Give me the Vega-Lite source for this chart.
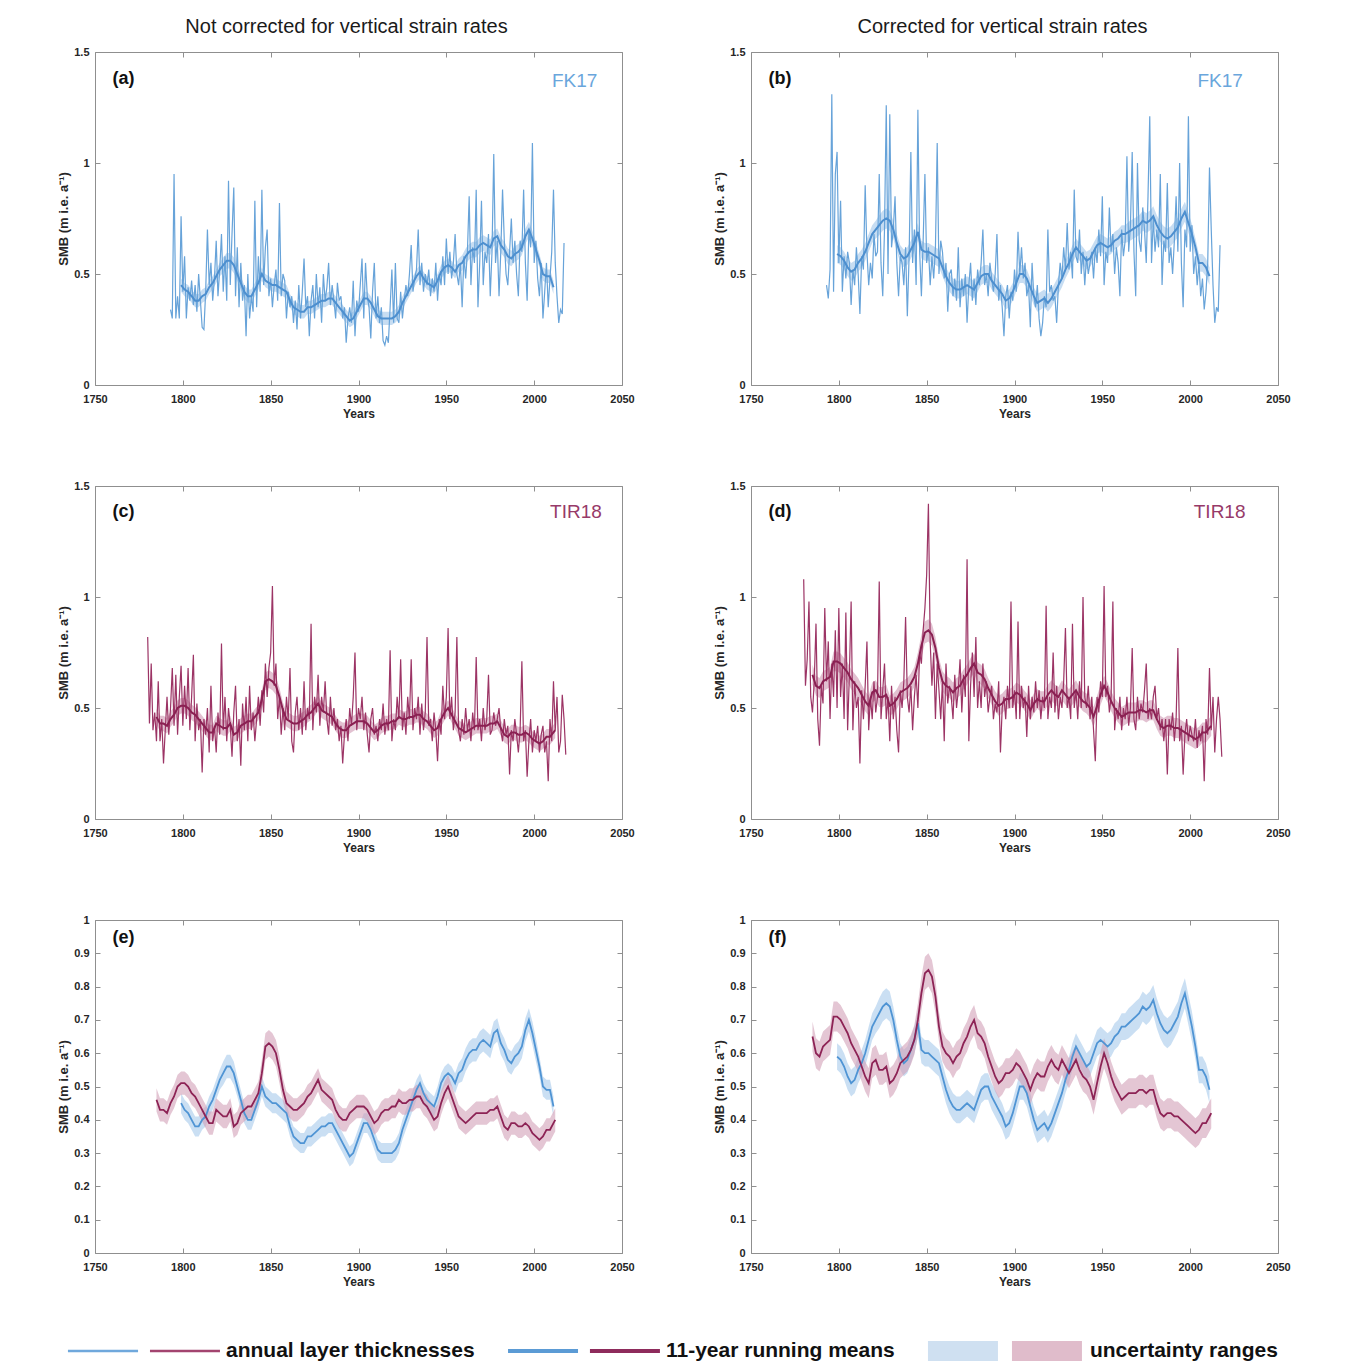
{
  "$schema": "https://vega.github.io/schema/vega-lite/v6.json",
  "background": "white",
  "padding": {"left": 57, "top": 17, "right": 10, "bottom": 0},
  "spacing": 49,
  "vconcat": [
    {
      "spacing": 61,
      "vconcat": [
        {
          "spacing": 78,
          "hconcat": [
            {
              "width": 527, "height": 333,
              "title": {"text": "Not corrected for vertical strain rates", "fontSize": 20, "fontWeight": "normal", "dx": -12, "offset": 9, "color": "#1a1a1a"},
              "layer": [
                {"data": {"name": "fkm"}, "mark": {"type": "errorband", "color": "#b4d1ee", "opacity": 0.75},
                 "encoding": {"x": {"field": "t", "type": "quantitative", "scale": {"domain": [1750, 2050], "nice": false, "zero": false}, "axis": null},
                              "y": {"field": "n", "type": "quantitative", "scale": {"domain": [0, 1.5], "nice": false, "zero": false}, "axis": null},
                              "yError": {"field": "u"}}},
                {"data": {"name": "fk"}, "mark": {"type": "line", "color": "#67a3d9", "strokeWidth": 1.2},
                 "encoding": {"x": {"field": "t", "type": "quantitative", "scale": {"domain": [1750, 2050], "nice": false, "zero": false}, "axis": {"orient": "bottom", "title": "Years", "values": [1750, 1800, 1850, 1900, 1950, 2000, 2050], "format": "d"}},
                              "y": {"field": "n", "type": "quantitative", "scale": {"domain": [0, 1.5], "nice": false, "zero": false}, "axis": {"orient": "left", "title": "SMB (m i.e. a⁻¹)", "values": [0, 0.5, 1, 1.5], "format": "~g"}}}},
                {"data": {"name": "fkm"}, "mark": {"type": "line", "color": "#4d8fcf", "strokeWidth": 2},
                 "encoding": {"x": {"field": "t", "type": "quantitative", "scale": {"domain": [1750, 2050], "nice": false, "zero": false}, "axis": null},
                              "y": {"field": "n", "type": "quantitative", "scale": {"domain": [0, 1.5], "nice": false, "zero": false}, "axis": null}}},
                {"data": {"values": [{"t": 1760, "v": 1.38, "s": "(a)"}]}, "mark": {"type": "text", "align": "left", "baseline": "middle", "fontSize": 18, "fontWeight": "bold", "color": "#111111"},
                 "encoding": {"x": {"field": "t", "type": "quantitative", "scale": {"domain": [1750, 2050], "nice": false, "zero": false}, "axis": {"orient": "top", "labels": false, "title": null, "values": [1750, 1800, 1850, 1900, 1950, 2000, 2050]}},
                              "y": {"field": "v", "type": "quantitative", "scale": {"domain": [0, 1.5], "nice": false, "zero": false}, "axis": {"orient": "right", "labels": false, "title": null, "values": [0, 0.5, 1, 1.5]}},
                              "text": {"field": "s"}}},
                {"data": {"values": [{"t": 2036, "v": 1.37, "s": "FK17"}]}, "mark": {"type": "text", "align": "right", "baseline": "middle", "fontSize": 19, "color": "#6aa6dc"},
                 "encoding": {"x": {"field": "t", "type": "quantitative", "scale": {"domain": [1750, 2050], "nice": false, "zero": false}, "axis": null},
                              "y": {"field": "v", "type": "quantitative", "scale": {"domain": [0, 1.5], "nice": false, "zero": false}, "axis": null},
                              "text": {"field": "s"}}}
              ],
              "resolve": {"axis": {"x": "independent", "y": "independent"}}
            },
            {
              "width": 527, "height": 333,
              "title": {"text": "Corrected for vertical strain rates", "fontSize": 20, "fontWeight": "normal", "dx": -12, "offset": 9, "color": "#1a1a1a"},
              "layer": [
                {"data": {"name": "fkm"}, "mark": {"type": "errorband", "color": "#b4d1ee", "opacity": 0.75},
                 "encoding": {"x": {"field": "t", "type": "quantitative", "scale": {"domain": [1750, 2050], "nice": false, "zero": false}, "axis": null},
                              "y": {"field": "c", "type": "quantitative", "scale": {"domain": [0, 1.5], "nice": false, "zero": false}, "axis": null},
                              "yError": {"field": "w"}}},
                {"data": {"name": "fk"}, "mark": {"type": "line", "color": "#67a3d9", "strokeWidth": 1.2},
                 "encoding": {"x": {"field": "t", "type": "quantitative", "scale": {"domain": [1750, 2050], "nice": false, "zero": false}, "axis": {"orient": "bottom", "title": "Years", "values": [1750, 1800, 1850, 1900, 1950, 2000, 2050], "format": "d"}},
                              "y": {"field": "c", "type": "quantitative", "scale": {"domain": [0, 1.5], "nice": false, "zero": false}, "axis": {"orient": "left", "title": "SMB (m i.e. a⁻¹)", "values": [0, 0.5, 1, 1.5], "format": "~g"}}}},
                {"data": {"name": "fkm"}, "mark": {"type": "line", "color": "#4d8fcf", "strokeWidth": 2},
                 "encoding": {"x": {"field": "t", "type": "quantitative", "scale": {"domain": [1750, 2050], "nice": false, "zero": false}, "axis": null},
                              "y": {"field": "c", "type": "quantitative", "scale": {"domain": [0, 1.5], "nice": false, "zero": false}, "axis": null}}},
                {"data": {"values": [{"t": 1760, "v": 1.38, "s": "(b)"}]}, "mark": {"type": "text", "align": "left", "baseline": "middle", "fontSize": 18, "fontWeight": "bold", "color": "#111111"},
                 "encoding": {"x": {"field": "t", "type": "quantitative", "scale": {"domain": [1750, 2050], "nice": false, "zero": false}, "axis": {"orient": "top", "labels": false, "title": null, "values": [1750, 1800, 1850, 1900, 1950, 2000, 2050]}},
                              "y": {"field": "v", "type": "quantitative", "scale": {"domain": [0, 1.5], "nice": false, "zero": false}, "axis": {"orient": "right", "labels": false, "title": null, "values": [0, 0.5, 1, 1.5]}},
                              "text": {"field": "s"}}},
                {"data": {"values": [{"t": 2030, "v": 1.37, "s": "FK17"}]}, "mark": {"type": "text", "align": "right", "baseline": "middle", "fontSize": 19, "color": "#6aa6dc"},
                 "encoding": {"x": {"field": "t", "type": "quantitative", "scale": {"domain": [1750, 2050], "nice": false, "zero": false}, "axis": null},
                              "y": {"field": "v", "type": "quantitative", "scale": {"domain": [0, 1.5], "nice": false, "zero": false}, "axis": null},
                              "text": {"field": "s"}}}
              ],
              "resolve": {"axis": {"x": "independent", "y": "independent"}}
            }
          ]
        },
        {
          "spacing": 78,
          "hconcat": [
            {
              "width": 527, "height": 333,
              "layer": [
                {"data": {"name": "tirm"}, "mark": {"type": "errorband", "color": "#d2a0b8", "opacity": 0.65},
                 "encoding": {"x": {"field": "t", "type": "quantitative", "scale": {"domain": [1750, 2050], "nice": false, "zero": false}, "axis": null},
                              "y": {"field": "n", "type": "quantitative", "scale": {"domain": [0, 1.5], "nice": false, "zero": false}, "axis": null},
                              "yError": {"field": "u"}}},
                {"data": {"name": "tir"}, "mark": {"type": "line", "color": "#9c3465", "strokeWidth": 1.2},
                 "encoding": {"x": {"field": "t", "type": "quantitative", "scale": {"domain": [1750, 2050], "nice": false, "zero": false}, "axis": {"orient": "bottom", "title": "Years", "values": [1750, 1800, 1850, 1900, 1950, 2000, 2050], "format": "d"}},
                              "y": {"field": "n", "type": "quantitative", "scale": {"domain": [0, 1.5], "nice": false, "zero": false}, "axis": {"orient": "left", "title": "SMB (m i.e. a⁻¹)", "values": [0, 0.5, 1, 1.5], "format": "~g"}}}},
                {"data": {"name": "tirm"}, "mark": {"type": "line", "color": "#8a2052", "strokeWidth": 2},
                 "encoding": {"x": {"field": "t", "type": "quantitative", "scale": {"domain": [1750, 2050], "nice": false, "zero": false}, "axis": null},
                              "y": {"field": "n", "type": "quantitative", "scale": {"domain": [0, 1.5], "nice": false, "zero": false}, "axis": null}}},
                {"data": {"values": [{"t": 1760, "v": 1.385, "s": "(c)"}]}, "mark": {"type": "text", "align": "left", "baseline": "middle", "fontSize": 18, "fontWeight": "bold", "color": "#111111"},
                 "encoding": {"x": {"field": "t", "type": "quantitative", "scale": {"domain": [1750, 2050], "nice": false, "zero": false}, "axis": {"orient": "top", "labels": false, "title": null, "values": [1750, 1800, 1850, 1900, 1950, 2000, 2050]}},
                              "y": {"field": "v", "type": "quantitative", "scale": {"domain": [0, 1.5], "nice": false, "zero": false}, "axis": {"orient": "right", "labels": false, "title": null, "values": [0, 0.5, 1, 1.5]}},
                              "text": {"field": "s"}}},
                {"data": {"values": [{"t": 2038.5, "v": 1.385, "s": "TIR18"}]}, "mark": {"type": "text", "align": "right", "baseline": "middle", "fontSize": 19, "color": "#973a69"},
                 "encoding": {"x": {"field": "t", "type": "quantitative", "scale": {"domain": [1750, 2050], "nice": false, "zero": false}, "axis": null},
                              "y": {"field": "v", "type": "quantitative", "scale": {"domain": [0, 1.5], "nice": false, "zero": false}, "axis": null},
                              "text": {"field": "s"}}}
              ],
              "resolve": {"axis": {"x": "independent", "y": "independent"}}
            },
            {
              "width": 527, "height": 333,
              "layer": [
                {"data": {"name": "tirm"}, "mark": {"type": "errorband", "color": "#d2a0b8", "opacity": 0.65},
                 "encoding": {"x": {"field": "t", "type": "quantitative", "scale": {"domain": [1750, 2050], "nice": false, "zero": false}, "axis": null},
                              "y": {"field": "c", "type": "quantitative", "scale": {"domain": [0, 1.5], "nice": false, "zero": false}, "axis": null},
                              "yError": {"field": "w"}}},
                {"data": {"name": "tir"}, "mark": {"type": "line", "color": "#9c3465", "strokeWidth": 1.2},
                 "encoding": {"x": {"field": "t", "type": "quantitative", "scale": {"domain": [1750, 2050], "nice": false, "zero": false}, "axis": {"orient": "bottom", "title": "Years", "values": [1750, 1800, 1850, 1900, 1950, 2000, 2050], "format": "d"}},
                              "y": {"field": "c", "type": "quantitative", "scale": {"domain": [0, 1.5], "nice": false, "zero": false}, "axis": {"orient": "left", "title": "SMB (m i.e. a⁻¹)", "values": [0, 0.5, 1, 1.5], "format": "~g"}}}},
                {"data": {"name": "tirm"}, "mark": {"type": "line", "color": "#8a2052", "strokeWidth": 2},
                 "encoding": {"x": {"field": "t", "type": "quantitative", "scale": {"domain": [1750, 2050], "nice": false, "zero": false}, "axis": null},
                              "y": {"field": "c", "type": "quantitative", "scale": {"domain": [0, 1.5], "nice": false, "zero": false}, "axis": null}}},
                {"data": {"values": [{"t": 1760, "v": 1.385, "s": "(d)"}]}, "mark": {"type": "text", "align": "left", "baseline": "middle", "fontSize": 18, "fontWeight": "bold", "color": "#111111"},
                 "encoding": {"x": {"field": "t", "type": "quantitative", "scale": {"domain": [1750, 2050], "nice": false, "zero": false}, "axis": {"orient": "top", "labels": false, "title": null, "values": [1750, 1800, 1850, 1900, 1950, 2000, 2050]}},
                              "y": {"field": "v", "type": "quantitative", "scale": {"domain": [0, 1.5], "nice": false, "zero": false}, "axis": {"orient": "right", "labels": false, "title": null, "values": [0, 0.5, 1, 1.5]}},
                              "text": {"field": "s"}}},
                {"data": {"values": [{"t": 2031.5, "v": 1.385, "s": "TIR18"}]}, "mark": {"type": "text", "align": "right", "baseline": "middle", "fontSize": 19, "color": "#973a69"},
                 "encoding": {"x": {"field": "t", "type": "quantitative", "scale": {"domain": [1750, 2050], "nice": false, "zero": false}, "axis": null},
                              "y": {"field": "v", "type": "quantitative", "scale": {"domain": [0, 1.5], "nice": false, "zero": false}, "axis": null},
                              "text": {"field": "s"}}}
              ],
              "resolve": {"axis": {"x": "independent", "y": "independent"}}
            }
          ]
        },
        {
          "spacing": 78,
          "hconcat": [
            {
              "width": 527, "height": 333,
              "layer": [
                {"data": {"name": "fkm"}, "mark": {"type": "errorband", "color": "#b4d1ee", "opacity": 0.7},
                 "encoding": {"x": {"field": "t", "type": "quantitative", "scale": {"domain": [1750, 2050], "nice": false, "zero": false}, "axis": null},
                              "y": {"field": "n", "type": "quantitative", "scale": {"domain": [0, 1], "nice": false, "zero": false}, "axis": null},
                              "yError": {"field": "u"}}},
                {"data": {"name": "tirm"}, "mark": {"type": "errorband", "color": "#d2a0b8", "opacity": 0.6},
                 "encoding": {"x": {"field": "t", "type": "quantitative", "scale": {"domain": [1750, 2050], "nice": false, "zero": false}, "axis": null},
                              "y": {"field": "n", "type": "quantitative", "scale": {"domain": [0, 1], "nice": false, "zero": false}, "axis": null},
                              "yError": {"field": "u"}}},
                {"data": {"name": "fkm"}, "mark": {"type": "line", "color": "#4f94d4", "strokeWidth": 1.8},
                 "encoding": {"x": {"field": "t", "type": "quantitative", "scale": {"domain": [1750, 2050], "nice": false, "zero": false}, "axis": {"orient": "bottom", "title": "Years", "values": [1750, 1800, 1850, 1900, 1950, 2000, 2050], "format": "d"}},
                              "y": {"field": "n", "type": "quantitative", "scale": {"domain": [0, 1], "nice": false, "zero": false}, "axis": {"orient": "left", "title": "SMB (m i.e. a⁻¹)", "values": [0, 0.1, 0.2, 0.3, 0.4, 0.5, 0.6, 0.7, 0.8, 0.9, 1], "format": "~g"}}}},
                {"data": {"name": "tirm"}, "mark": {"type": "line", "color": "#8d2355", "strokeWidth": 1.8},
                 "encoding": {"x": {"field": "t", "type": "quantitative", "scale": {"domain": [1750, 2050], "nice": false, "zero": false}, "axis": {"orient": "top", "labels": false, "title": null, "values": [1750, 1800, 1850, 1900, 1950, 2000, 2050]}},
                              "y": {"field": "n", "type": "quantitative", "scale": {"domain": [0, 1], "nice": false, "zero": false}, "axis": {"orient": "right", "labels": false, "title": null, "values": [0, 0.1, 0.2, 0.3, 0.4, 0.5, 0.6, 0.7, 0.8, 0.9, 1]}}}},
                {"data": {"values": [{"t": 1760, "v": 0.946, "s": "(e)"}]}, "mark": {"type": "text", "align": "left", "baseline": "middle", "fontSize": 18, "fontWeight": "bold", "color": "#111111"},
                 "encoding": {"x": {"field": "t", "type": "quantitative", "scale": {"domain": [1750, 2050], "nice": false, "zero": false}, "axis": null},
                              "y": {"field": "v", "type": "quantitative", "scale": {"domain": [0, 1], "nice": false, "zero": false}, "axis": null},
                              "text": {"field": "s"}}}
              ],
              "resolve": {"axis": {"x": "independent", "y": "independent"}}
            },
            {
              "width": 527, "height": 333,
              "layer": [
                {"data": {"name": "fkm"}, "mark": {"type": "errorband", "color": "#b4d1ee", "opacity": 0.7},
                 "encoding": {"x": {"field": "t", "type": "quantitative", "scale": {"domain": [1750, 2050], "nice": false, "zero": false}, "axis": null},
                              "y": {"field": "c", "type": "quantitative", "scale": {"domain": [0, 1], "nice": false, "zero": false}, "axis": null},
                              "yError": {"field": "w"}}},
                {"data": {"name": "tirm"}, "mark": {"type": "errorband", "color": "#d2a0b8", "opacity": 0.6},
                 "encoding": {"x": {"field": "t", "type": "quantitative", "scale": {"domain": [1750, 2050], "nice": false, "zero": false}, "axis": null},
                              "y": {"field": "c", "type": "quantitative", "scale": {"domain": [0, 1], "nice": false, "zero": false}, "axis": null},
                              "yError": {"field": "w"}}},
                {"data": {"name": "fkm"}, "mark": {"type": "line", "color": "#4f94d4", "strokeWidth": 1.8},
                 "encoding": {"x": {"field": "t", "type": "quantitative", "scale": {"domain": [1750, 2050], "nice": false, "zero": false}, "axis": {"orient": "bottom", "title": "Years", "values": [1750, 1800, 1850, 1900, 1950, 2000, 2050], "format": "d"}},
                              "y": {"field": "c", "type": "quantitative", "scale": {"domain": [0, 1], "nice": false, "zero": false}, "axis": {"orient": "left", "title": "SMB (m i.e. a⁻¹)", "values": [0, 0.1, 0.2, 0.3, 0.4, 0.5, 0.6, 0.7, 0.8, 0.9, 1], "format": "~g"}}}},
                {"data": {"name": "tirm"}, "mark": {"type": "line", "color": "#8d2355", "strokeWidth": 1.8},
                 "encoding": {"x": {"field": "t", "type": "quantitative", "scale": {"domain": [1750, 2050], "nice": false, "zero": false}, "axis": {"orient": "top", "labels": false, "title": null, "values": [1750, 1800, 1850, 1900, 1950, 2000, 2050]}},
                              "y": {"field": "c", "type": "quantitative", "scale": {"domain": [0, 1], "nice": false, "zero": false}, "axis": {"orient": "right", "labels": false, "title": null, "values": [0, 0.1, 0.2, 0.3, 0.4, 0.5, 0.6, 0.7, 0.8, 0.9, 1]}}}},
                {"data": {"values": [{"t": 1760, "v": 0.946, "s": "(f)"}]}, "mark": {"type": "text", "align": "left", "baseline": "middle", "fontSize": 18, "fontWeight": "bold", "color": "#111111"},
                 "encoding": {"x": {"field": "t", "type": "quantitative", "scale": {"domain": [1750, 2050], "nice": false, "zero": false}, "axis": null},
                              "y": {"field": "v", "type": "quantitative", "scale": {"domain": [0, 1], "nice": false, "zero": false}, "axis": null},
                              "text": {"field": "s"}}}
              ],
              "resolve": {"axis": {"x": "independent", "y": "independent"}}
            }
          ]
        }
      ]
    },
    {
      "width": 1230, "height": 30,
      "layer": [
        {"data": {"name": "legrect"}, "mark": {"type": "rect"},
         "encoding": {"x": {"field": "a", "type": "quantitative", "scale": {"domain": [0, 100], "nice": false, "zero": false}, "axis": null},
                      "x2": {"field": "b"},
                      "y": {"datum": 0.17, "type": "quantitative", "scale": {"domain": [0, 1]}, "axis": null},
                      "y2": {"datum": 0.83},
                      "color": {"field": "s", "type": "nominal", "scale": {"domain": ["FK17", "TIR18"], "range": ["#cfe0f1", "#e0bccb"]}, "legend": null}}},
        {"data": {"name": "legline"}, "transform": [{"filter": "datum.k === 'annual'"}], "mark": {"type": "rule", "strokeWidth": 2.5},
         "encoding": {"x": {"field": "a", "type": "quantitative", "scale": {"domain": [0, 100], "nice": false, "zero": false}, "axis": null},
                      "x2": {"field": "b"},
                      "y": {"datum": 0.5, "type": "quantitative", "scale": {"domain": [0, 1]}, "axis": null},
                      "color": {"field": "s", "type": "nominal", "scale": {"domain": ["FK17", "TIR18"], "range": ["#6fa8dc", "#a3446f"]}, "legend": null}}},
        {"data": {"name": "legline"}, "transform": [{"filter": "datum.k === 'mean'"}], "mark": {"type": "rule", "strokeWidth": 4},
         "encoding": {"x": {"field": "a", "type": "quantitative", "scale": {"domain": [0, 100], "nice": false, "zero": false}, "axis": null},
                      "x2": {"field": "b"},
                      "y": {"datum": 0.5, "type": "quantitative", "scale": {"domain": [0, 1]}, "axis": null},
                      "color": {"field": "s", "type": "nominal", "scale": {"domain": ["FK17", "TIR18"], "range": ["#5b9bd5", "#8e2b5c"]}, "legend": null}}},
        {"data": {"name": "legtext"}, "mark": {"type": "text", "align": "left", "baseline": "middle", "fontSize": 21, "fontWeight": "bold", "color": "#111111"},
         "encoding": {"x": {"field": "a", "type": "quantitative", "scale": {"domain": [0, 100], "nice": false, "zero": false}, "axis": null},
                      "y": {"datum": 0.5, "type": "quantitative", "scale": {"domain": [0, 1]}, "axis": null},
                      "text": {"field": "txt"}}}
      ],
      "resolve": {"scale": {"color": "independent"}}
    }
  ],
  "datasets": {
    "legline": [
      {"s": "FK17", "k": "annual", "a": -2.2, "b": 3.5},
      {"s": "TIR18", "k": "annual", "a": 4.47, "b": 10.16},
      {"s": "FK17", "k": "mean", "a": 33.58, "b": 39.27},
      {"s": "TIR18", "k": "mean", "a": 40.24, "b": 45.93}
    ],
    "legrect": [
      {"s": "FK17", "a": 67.72, "b": 73.41},
      {"s": "TIR18", "a": 74.55, "b": 80.24}
    ],
    "legtext": [
      {"txt": "annual layer thicknesses", "a": 10.65},
      {"txt": "11-year running means", "a": 46.42},
      {"txt": "uncertainty ranges", "a": 80.89}
    ],
    "fk": [
      {"t":1793,"n":0.34,"c":0.45},{"t":1794,"n":0.30,"c":0.39},{"t":1795,"n":0.95,"c":0.52},{"t":1796,"n":0.30,"c":1.31},{"t":1797,"n":0.40,"c":0.42},{"t":1798,"n":0.30,"c":0.95},{"t":1799,"n":0.76,"c":1.05},
      {"t":1800,"n":0.42,"c":0.55},{"t":1801,"n":0.58,"c":0.83},{"t":1802,"n":0.30,"c":0.42},{"t":1803,"n":0.44,"c":0.58},{"t":1804,"n":0.38,"c":0.48},{"t":1805,"n":0.47,"c":0.60},{"t":1806,"n":0.36,"c":0.55},{"t":1807,"n":0.45,"c":0.36},{"t":1808,"n":0.33,"c":0.52},{"t":1809,"n":0.50,"c":0.45},
      {"t":1810,"n":0.38,"c":0.62},{"t":1811,"n":0.26,"c":0.50},{"t":1812,"n":0.25,"c":0.32},{"t":1813,"n":0.42,"c":0.58},{"t":1814,"n":0.70,"c":0.52},{"t":1815,"n":0.45,"c":0.90},{"t":1816,"n":0.55,"c":0.60},{"t":1817,"n":0.38,"c":0.45},{"t":1818,"n":0.48,"c":0.55},{"t":1819,"n":0.65,"c":0.48},
      {"t":1820,"n":0.40,"c":0.68},{"t":1821,"n":0.52,"c":0.58},{"t":1822,"n":0.68,"c":0.60},{"t":1823,"n":0.42,"c":0.95},{"t":1824,"n":0.58,"c":0.55},{"t":1825,"n":0.38,"c":0.40},{"t":1826,"n":0.92,"c":0.70},{"t":1827,"n":0.45,"c":1.26},{"t":1828,"n":0.68,"c":0.50},{"t":1829,"n":0.89,"c":1.22},
      {"t":1830,"n":0.40,"c":0.62},{"t":1831,"n":0.62,"c":0.70},{"t":1832,"n":0.35,"c":0.85},{"t":1833,"n":0.55,"c":0.55},{"t":1834,"n":0.38,"c":0.40},{"t":1835,"n":0.45,"c":0.58},{"t":1836,"n":0.22,"c":0.55},{"t":1837,"n":0.50,"c":0.45},{"t":1838,"n":0.30,"c":0.62},{"t":1839,"n":0.40,"c":0.31},
      {"t":1840,"n":0.33,"c":0.58},{"t":1841,"n":0.83,"c":1.05},{"t":1842,"n":0.35,"c":0.55},{"t":1843,"n":0.58,"c":0.70},{"t":1844,"n":0.42,"c":0.45},{"t":1845,"n":0.88,"c":1.24},{"t":1846,"n":0.45,"c":0.60},{"t":1847,"n":0.62,"c":0.40},{"t":1848,"n":0.70,"c":0.65},{"t":1849,"n":0.40,"c":0.95},
      {"t":1850,"n":0.48,"c":0.55},{"t":1851,"n":0.35,"c":0.62},{"t":1852,"n":0.45,"c":0.45},{"t":1853,"n":0.52,"c":0.58},{"t":1854,"n":0.38,"c":0.48},{"t":1855,"n":0.82,"c":0.62},{"t":1856,"n":0.40,"c":1.09},{"t":1857,"n":0.50,"c":0.50},{"t":1858,"n":0.47,"c":0.65},{"t":1859,"n":0.30,"c":0.60},
      {"t":1860,"n":0.42,"c":0.48},{"t":1861,"n":0.35,"c":0.55},{"t":1862,"n":0.40,"c":0.33},{"t":1863,"n":0.28,"c":0.50},{"t":1864,"n":0.38,"c":0.52},{"t":1865,"n":0.25,"c":0.40},{"t":1866,"n":0.45,"c":0.48},{"t":1867,"n":0.30,"c":0.38},{"t":1868,"n":0.42,"c":0.62},{"t":1869,"n":0.57,"c":0.35},
      {"t":1870,"n":0.35,"c":0.48},{"t":1871,"n":0.40,"c":0.40},{"t":1872,"n":0.22,"c":0.50},{"t":1873,"n":0.38,"c":0.28},{"t":1874,"n":0.45,"c":0.45},{"t":1875,"n":0.30,"c":0.55},{"t":1876,"n":0.50,"c":0.38},{"t":1877,"n":0.35,"c":0.48},{"t":1878,"n":0.44,"c":0.36},{"t":1879,"n":0.28,"c":0.52},
      {"t":1880,"n":0.50,"c":0.45},{"t":1881,"n":0.38,"c":0.55},{"t":1882,"n":0.44,"c":0.70},{"t":1883,"n":0.55,"c":0.45},{"t":1884,"n":0.36,"c":0.50},{"t":1885,"n":0.45,"c":0.40},{"t":1886,"n":0.38,"c":0.55},{"t":1887,"n":0.30,"c":0.48},{"t":1888,"n":0.46,"c":0.42},{"t":1889,"n":0.38,"c":0.50},
      {"t":1890,"n":0.40,"c":0.68},{"t":1891,"n":0.30,"c":0.38},{"t":1892,"n":0.35,"c":0.45},{"t":1893,"n":0.19,"c":0.35},{"t":1894,"n":0.30,"c":0.22},{"t":1895,"n":0.35,"c":0.40},{"t":1896,"n":0.28,"c":0.45},{"t":1897,"n":0.47,"c":0.30},{"t":1898,"n":0.22,"c":0.42},{"t":1899,"n":0.38,"c":0.38},
      {"t":1900,"n":0.33,"c":0.52},{"t":1901,"n":0.45,"c":0.42},{"t":1902,"n":0.57,"c":0.69},{"t":1903,"n":0.30,"c":0.50},{"t":1904,"n":0.55,"c":0.62},{"t":1905,"n":0.40,"c":0.48},{"t":1906,"n":0.35,"c":0.55},{"t":1907,"n":0.21,"c":0.40},{"t":1908,"n":0.42,"c":0.45},{"t":1909,"n":0.55,"c":0.26},
      {"t":1910,"n":0.30,"c":0.55},{"t":1911,"n":0.40,"c":0.40},{"t":1912,"n":0.28,"c":0.35},{"t":1913,"n":0.35,"c":0.45},{"t":1914,"n":0.20,"c":0.30},{"t":1915,"n":0.18,"c":0.22},{"t":1916,"n":0.22,"c":0.28},{"t":1917,"n":0.19,"c":0.40},{"t":1918,"n":0.35,"c":0.35},{"t":1919,"n":0.52,"c":0.70},
      {"t":1920,"n":0.28,"c":0.42},{"t":1921,"n":0.55,"c":0.45},{"t":1922,"n":0.30,"c":0.38},{"t":1923,"n":0.28,"c":0.40},{"t":1924,"n":0.42,"c":0.28},{"t":1925,"n":0.30,"c":0.45},{"t":1926,"n":0.38,"c":0.55},{"t":1927,"n":0.45,"c":0.48},{"t":1928,"n":0.40,"c":0.62},{"t":1929,"n":0.50,"c":0.52},
      {"t":1930,"n":0.63,"c":0.73},{"t":1931,"n":0.42,"c":0.52},{"t":1932,"n":0.48,"c":0.60},{"t":1933,"n":0.52,"c":0.48},{"t":1934,"n":0.70,"c":0.88},{"t":1935,"n":0.45,"c":0.58},{"t":1936,"n":0.55,"c":0.55},{"t":1937,"n":0.42,"c":0.70},{"t":1938,"n":0.50,"c":0.50},{"t":1939,"n":0.45,"c":0.60},
      {"t":1940,"n":0.52,"c":0.45},{"t":1941,"n":0.40,"c":0.58},{"t":1942,"n":0.48,"c":0.50},{"t":1943,"n":0.42,"c":0.55},{"t":1944,"n":0.55,"c":0.60},{"t":1945,"n":0.38,"c":0.48},{"t":1946,"n":0.50,"c":0.62},{"t":1947,"n":0.45,"c":0.55},{"t":1948,"n":0.58,"c":0.70},{"t":1949,"n":0.45,"c":0.58},
      {"t":1950,"n":0.66,"c":0.85},{"t":1951,"n":0.50,"c":0.45},{"t":1952,"n":0.60,"c":0.60},{"t":1953,"n":0.48,"c":0.55},{"t":1954,"n":0.55,"c":0.80},{"t":1955,"n":0.68,"c":0.60},{"t":1956,"n":0.50,"c":0.68},{"t":1957,"n":0.45,"c":0.50},{"t":1958,"n":0.55,"c":0.62},{"t":1959,"n":0.35,"c":0.55},
      {"t":1960,"n":0.58,"c":0.40},{"t":1961,"n":0.48,"c":0.70},{"t":1962,"n":0.60,"c":0.58},{"t":1963,"n":0.85,"c":0.65},{"t":1964,"n":0.45,"c":1.03},{"t":1965,"n":0.62,"c":0.60},{"t":1966,"n":0.55,"c":0.72},{"t":1967,"n":0.88,"c":1.05},{"t":1968,"n":0.35,"c":0.60},{"t":1969,"n":0.55,"c":0.40},
      {"t":1970,"n":0.83,"c":1.00},{"t":1971,"n":0.45,"c":0.65},{"t":1972,"n":0.60,"c":0.60},{"t":1973,"n":0.55,"c":0.80},{"t":1974,"n":0.68,"c":0.70},{"t":1975,"n":0.40,"c":0.55},{"t":1976,"n":0.60,"c":0.85},{"t":1977,"n":1.04,"c":1.21},{"t":1978,"n":0.55,"c":0.55},{"t":1979,"n":0.65,"c":0.75},
      {"t":1980,"n":0.40,"c":0.60},{"t":1981,"n":0.60,"c":0.70},{"t":1982,"n":0.88,"c":0.62},{"t":1983,"n":0.65,"c":0.95},{"t":1984,"n":0.50,"c":0.45},{"t":1985,"n":0.45,"c":0.65},{"t":1986,"n":0.60,"c":0.60},{"t":1987,"n":0.75,"c":0.91},{"t":1988,"n":0.55,"c":0.55},{"t":1989,"n":0.65,"c":0.62},
      {"t":1990,"n":0.50,"c":0.50},{"t":1991,"n":0.40,"c":0.65},{"t":1992,"n":0.65,"c":0.85},{"t":1993,"n":0.60,"c":0.60},{"t":1994,"n":0.88,"c":1.00},{"t":1995,"n":0.55,"c":0.55},{"t":1996,"n":0.38,"c":0.35},{"t":1997,"n":0.70,"c":0.70},{"t":1998,"n":0.62,"c":0.62},{"t":1999,"n":1.09,"c":1.21},
      {"t":2000,"n":0.55,"c":0.60},{"t":2001,"n":0.65,"c":0.72},{"t":2002,"n":0.48,"c":0.50},{"t":2003,"n":0.40,"c":0.58},{"t":2004,"n":0.55,"c":0.45},{"t":2005,"n":0.30,"c":0.55},{"t":2006,"n":0.42,"c":0.40},{"t":2007,"n":0.55,"c":0.48},{"t":2008,"n":0.35,"c":0.34},{"t":2009,"n":0.48,"c":0.42},
      {"t":2010,"n":0.60,"c":0.55},{"t":2011,"n":0.88,"c":0.98},{"t":2012,"n":0.55,"c":0.70},{"t":2013,"n":0.40,"c":0.45},{"t":2014,"n":0.28,"c":0.28},{"t":2015,"n":0.34,"c":0.35},{"t":2016,"n":0.32,"c":0.33},{"t":2017,"n":0.64,"c":0.63}
    ],
    "tir": [
      {"t":1780,"n":0.82,"c":1.08},{"t":1781,"n":0.43,"c":0.60},{"t":1782,"n":0.70,"c":0.72},{"t":1783,"n":0.40,"c":0.98},{"t":1784,"n":0.48,"c":0.55},{"t":1785,"n":0.35,"c":0.48},{"t":1786,"n":0.62,"c":0.62},{"t":1787,"n":0.35,"c":0.88},{"t":1788,"n":0.45,"c":0.45},{"t":1789,"n":0.25,"c":0.33},
      {"t":1790,"n":0.40,"c":0.60},{"t":1791,"n":0.55,"c":0.52},{"t":1792,"n":0.38,"c":0.95},{"t":1793,"n":0.50,"c":0.62},{"t":1794,"n":0.68,"c":0.80},{"t":1795,"n":0.42,"c":0.45},{"t":1796,"n":0.65,"c":0.70},{"t":1797,"n":0.38,"c":0.55},{"t":1798,"n":0.55,"c":0.85},{"t":1799,"n":0.69,"c":0.50},
      {"t":1800,"n":0.42,"c":0.95},{"t":1801,"n":0.60,"c":0.55},{"t":1802,"n":0.45,"c":0.70},{"t":1803,"n":0.68,"c":0.45},{"t":1804,"n":0.40,"c":0.93},{"t":1805,"n":0.55,"c":0.40},{"t":1806,"n":0.74,"c":0.65},{"t":1807,"n":0.35,"c":0.98},{"t":1808,"n":0.52,"c":0.40},{"t":1809,"n":0.40,"c":0.62},
      {"t":1810,"n":0.45,"c":0.50},{"t":1811,"n":0.21,"c":0.55},{"t":1812,"n":0.45,"c":0.25},{"t":1813,"n":0.38,"c":0.58},{"t":1814,"n":0.50,"c":0.45},{"t":1815,"n":0.30,"c":0.60},{"t":1816,"n":0.60,"c":0.80},{"t":1817,"n":0.35,"c":0.40},{"t":1818,"n":0.42,"c":0.55},{"t":1819,"n":0.30,"c":0.45},
      {"t":1820,"n":0.48,"c":0.62},{"t":1821,"n":0.38,"c":0.48},{"t":1822,"n":0.79,"c":0.55},{"t":1823,"n":0.40,"c":1.07},{"t":1824,"n":0.55,"c":0.45},{"t":1825,"n":0.35,"c":0.58},{"t":1826,"n":0.50,"c":0.70},{"t":1827,"n":0.42,"c":0.45},{"t":1828,"n":0.28,"c":0.55},{"t":1829,"n":0.48,"c":0.35},
      {"t":1830,"n":0.60,"c":0.60},{"t":1831,"n":0.35,"c":0.45},{"t":1832,"n":0.45,"c":0.55},{"t":1833,"n":0.24,"c":0.40},{"t":1834,"n":0.52,"c":0.30},{"t":1835,"n":0.40,"c":0.58},{"t":1836,"n":0.55,"c":0.50},{"t":1837,"n":0.35,"c":0.62},{"t":1838,"n":0.60,"c":0.91},{"t":1839,"n":0.40,"c":0.55},
      {"t":1840,"n":0.48,"c":0.48},{"t":1841,"n":0.35,"c":0.60},{"t":1842,"n":0.45,"c":0.40},{"t":1843,"n":0.55,"c":0.55},{"t":1844,"n":0.42,"c":0.65},{"t":1845,"n":0.58,"c":0.50},{"t":1846,"n":0.48,"c":0.75},{"t":1847,"n":0.70,"c":0.70},{"t":1848,"n":0.55,"c":0.85},{"t":1849,"n":0.68,"c":0.95},
      {"t":1850,"n":0.75,"c":1.10},{"t":1851,"n":1.05,"c":1.42},{"t":1852,"n":0.60,"c":0.80},{"t":1853,"n":0.70,"c":0.60},{"t":1854,"n":0.45,"c":0.75},{"t":1855,"n":0.55,"c":0.45},{"t":1856,"n":0.38,"c":0.70},{"t":1857,"n":0.50,"c":0.58},{"t":1858,"n":0.40,"c":0.45},{"t":1859,"n":0.55,"c":0.62},
      {"t":1860,"n":0.45,"c":0.35},{"t":1861,"n":0.68,"c":0.70},{"t":1862,"n":0.35,"c":0.52},{"t":1863,"n":0.30,"c":0.60},{"t":1864,"n":0.48,"c":0.55},{"t":1865,"n":0.55,"c":0.45},{"t":1866,"n":0.40,"c":0.65},{"t":1867,"n":0.50,"c":0.50},{"t":1868,"n":0.38,"c":0.58},{"t":1869,"n":0.62,"c":0.72},
      {"t":1870,"n":0.40,"c":0.48},{"t":1871,"n":0.50,"c":0.65},{"t":1872,"n":0.45,"c":0.55},{"t":1873,"n":0.88,"c":1.17},{"t":1874,"n":0.40,"c":0.35},{"t":1875,"n":0.55,"c":0.60},{"t":1876,"n":0.48,"c":0.75},{"t":1877,"n":0.65,"c":0.55},{"t":1878,"n":0.42,"c":0.82},{"t":1879,"n":0.55,"c":0.50},
      {"t":1880,"n":0.48,"c":0.62},{"t":1881,"n":0.62,"c":0.50},{"t":1882,"n":0.45,"c":0.70},{"t":1883,"n":0.38,"c":0.55},{"t":1884,"n":0.55,"c":0.62},{"t":1885,"n":0.42,"c":0.48},{"t":1886,"n":0.50,"c":0.55},{"t":1887,"n":0.40,"c":0.60},{"t":1888,"n":0.45,"c":0.45},{"t":1889,"n":0.35,"c":0.52},
      {"t":1890,"n":0.42,"c":0.48},{"t":1891,"n":0.25,"c":0.62},{"t":1892,"n":0.38,"c":0.30},{"t":1893,"n":0.45,"c":0.50},{"t":1894,"n":0.35,"c":0.55},{"t":1895,"n":0.50,"c":0.45},{"t":1896,"n":0.42,"c":0.60},{"t":1897,"n":0.55,"c":0.50},{"t":1898,"n":0.75,"c":0.98},{"t":1899,"n":0.40,"c":0.50},
      {"t":1900,"n":0.50,"c":0.58},{"t":1901,"n":0.45,"c":0.45},{"t":1902,"n":0.55,"c":0.89},{"t":1903,"n":0.40,"c":0.45},{"t":1904,"n":0.48,"c":0.60},{"t":1905,"n":0.38,"c":0.50},{"t":1906,"n":0.30,"c":0.55},{"t":1907,"n":0.45,"c":0.37},{"t":1908,"n":0.50,"c":0.60},{"t":1909,"n":0.38,"c":0.45},
      {"t":1910,"n":0.42,"c":0.55},{"t":1911,"n":0.35,"c":0.48},{"t":1912,"n":0.45,"c":0.62},{"t":1913,"n":0.40,"c":0.50},{"t":1914,"n":0.52,"c":0.58},{"t":1915,"n":0.38,"c":0.45},{"t":1916,"n":0.45,"c":0.55},{"t":1917,"n":0.40,"c":0.50},{"t":1918,"n":0.76,"c":0.96},{"t":1919,"n":0.35,"c":0.45},
      {"t":1920,"n":0.45,"c":0.55},{"t":1921,"n":0.40,"c":0.50},{"t":1922,"n":0.55,"c":0.75},{"t":1923,"n":0.45,"c":0.48},{"t":1924,"n":0.72,"c":0.60},{"t":1925,"n":0.40,"c":0.45},{"t":1926,"n":0.48,"c":0.55},{"t":1927,"n":0.38,"c":0.50},{"t":1928,"n":0.55,"c":0.62},{"t":1929,"n":0.45,"c":0.86},
      {"t":1930,"n":0.72,"c":0.50},{"t":1931,"n":0.40,"c":0.55},{"t":1932,"n":0.50,"c":0.45},{"t":1933,"n":0.45,"c":0.88},{"t":1934,"n":0.55,"c":0.50},{"t":1935,"n":0.38,"c":0.58},{"t":1936,"n":0.52,"c":0.45},{"t":1937,"n":0.40,"c":0.62},{"t":1938,"n":0.48,"c":0.50},{"t":1939,"n":0.82,"c":1.00},
      {"t":1940,"n":0.42,"c":0.55},{"t":1941,"n":0.45,"c":0.50},{"t":1942,"n":0.35,"c":0.60},{"t":1943,"n":0.48,"c":0.45},{"t":1944,"n":0.40,"c":0.55},{"t":1945,"n":0.26,"c":0.40},{"t":1946,"n":0.45,"c":0.26},{"t":1947,"n":0.38,"c":0.55},{"t":1948,"n":0.60,"c":0.48},{"t":1949,"n":0.45,"c":0.62},
      {"t":1950,"n":0.55,"c":0.55},{"t":1951,"n":0.86,"c":1.05},{"t":1952,"n":0.45,"c":0.55},{"t":1953,"n":0.55,"c":0.60},{"t":1954,"n":0.40,"c":0.48},{"t":1955,"n":0.48,"c":0.55},{"t":1956,"n":0.82,"c":0.98},{"t":1957,"n":0.40,"c":0.40},{"t":1958,"n":0.35,"c":0.50},{"t":1959,"n":0.45,"c":0.45},
      {"t":1960,"n":0.38,"c":0.55},{"t":1961,"n":0.50,"c":0.40},{"t":1962,"n":0.40,"c":0.50},{"t":1963,"n":0.45,"c":0.45},{"t":1964,"n":0.35,"c":0.55},{"t":1965,"n":0.48,"c":0.42},{"t":1966,"n":0.40,"c":0.50},{"t":1967,"n":0.73,"c":0.77},{"t":1968,"n":0.40,"c":0.45},{"t":1969,"n":0.45,"c":0.40},
      {"t":1970,"n":0.35,"c":0.55},{"t":1971,"n":0.50,"c":0.45},{"t":1972,"n":0.40,"c":0.52},{"t":1973,"n":0.45,"c":0.48},{"t":1974,"n":0.65,"c":0.58},{"t":1975,"n":0.38,"c":0.70},{"t":1976,"n":0.40,"c":0.45},{"t":1977,"n":0.48,"c":0.50},{"t":1978,"n":0.42,"c":0.45},{"t":1979,"n":0.45,"c":0.55},
      {"t":1980,"n":0.50,"c":0.60},{"t":1981,"n":0.40,"c":0.45},{"t":1982,"n":0.35,"c":0.50},{"t":1983,"n":0.45,"c":0.40},{"t":1984,"n":0.38,"c":0.45},{"t":1985,"n":0.42,"c":0.35},{"t":1986,"n":0.20,"c":0.45},{"t":1987,"n":0.40,"c":0.20},{"t":1988,"n":0.35,"c":0.45},{"t":1989,"n":0.45,"c":0.40},
      {"t":1990,"n":0.38,"c":0.48},{"t":1991,"n":0.30,"c":0.35},{"t":1992,"n":0.40,"c":0.45},{"t":1993,"n":0.71,"c":0.77},{"t":1994,"n":0.35,"c":0.35},{"t":1995,"n":0.40,"c":0.42},{"t":1996,"n":0.19,"c":0.20},{"t":1997,"n":0.35,"c":0.38},{"t":1998,"n":0.45,"c":0.45},{"t":1999,"n":0.30,"c":0.35},
      {"t":2000,"n":0.40,"c":0.42},{"t":2001,"n":0.35,"c":0.38},{"t":2002,"n":0.42,"c":0.35},{"t":2003,"n":0.30,"c":0.45},{"t":2004,"n":0.38,"c":0.32},{"t":2005,"n":0.42,"c":0.40},{"t":2006,"n":0.30,"c":0.35},{"t":2007,"n":0.35,"c":0.42},{"t":2008,"n":0.17,"c":0.17},{"t":2009,"n":0.45,"c":0.45},
      {"t":2010,"n":0.35,"c":0.38},{"t":2011,"n":0.62,"c":0.68},{"t":2012,"n":0.40,"c":0.40},{"t":2013,"n":0.55,"c":0.55},{"t":2014,"n":0.30,"c":0.30},{"t":2015,"n":0.35,"c":0.45},{"t":2016,"n":0.56,"c":0.55},{"t":2017,"n":0.45,"c":0.45},{"t":2018,"n":0.29,"c":0.28}
    ],
    "fkm": [
      {"t":1799,"n":0.45,"c":0.59,"u":0.03,"w":0.04},{"t":1801,"n":0.43,"c":0.58,"u":0.03,"w":0.04},{"t":1803,"n":0.42,"c":0.56,"u":0.03,"w":0.04},{"t":1805,"n":0.40,"c":0.53,"u":0.03,"w":0.04},{"t":1807,"n":0.38,"c":0.51,"u":0.03,"w":0.04},{"t":1809,"n":0.38,"c":0.52,"u":0.03,"w":0.04},{"t":1811,"n":0.40,"c":0.55,"u":0.03,"w":0.04},{"t":1813,"n":0.41,"c":0.57,"u":0.03,"w":0.04},{"t":1815,"n":0.44,"c":0.60,"u":0.03,"w":0.04},{"t":1817,"n":0.46,"c":0.64,"u":0.03,"w":0.04},
      {"t":1819,"n":0.49,"c":0.68,"u":0.03,"w":0.04},{"t":1821,"n":0.52,"c":0.70,"u":0.03,"w":0.04},{"t":1823,"n":0.54,"c":0.72,"u":0.035,"w":0.045},{"t":1825,"n":0.56,"c":0.74,"u":0.035,"w":0.045},{"t":1827,"n":0.56,"c":0.75,"u":0.035,"w":0.045},{"t":1829,"n":0.54,"c":0.74,"u":0.035,"w":0.045},{"t":1831,"n":0.50,"c":0.70,"u":0.03,"w":0.04},{"t":1833,"n":0.46,"c":0.64,"u":0.03,"w":0.04},{"t":1835,"n":0.42,"c":0.59,"u":0.03,"w":0.04},{"t":1837,"n":0.40,"c":0.57,"u":0.03,"w":0.04},
      {"t":1839,"n":0.40,"c":0.58,"u":0.03,"w":0.04},{"t":1841,"n":0.43,"c":0.61,"u":0.03,"w":0.04},{"t":1843,"n":0.46,"c":0.64,"u":0.03,"w":0.04},{"t":1845,"n":0.50,"c":0.69,"u":0.03,"w":0.04},{"t":1847,"n":0.47,"c":0.61,"u":0.03,"w":0.04},{"t":1849,"n":0.46,"c":0.60,"u":0.03,"w":0.04},{"t":1851,"n":0.45,"c":0.60,"u":0.03,"w":0.04},{"t":1853,"n":0.45,"c":0.59,"u":0.03,"w":0.04},{"t":1855,"n":0.44,"c":0.58,"u":0.03,"w":0.04},{"t":1857,"n":0.43,"c":0.57,"u":0.03,"w":0.04},
      {"t":1859,"n":0.42,"c":0.53,"u":0.03,"w":0.04},{"t":1861,"n":0.38,"c":0.49,"u":0.03,"w":0.04},{"t":1863,"n":0.35,"c":0.46,"u":0.03,"w":0.04},{"t":1865,"n":0.34,"c":0.44,"u":0.03,"w":0.04},{"t":1867,"n":0.33,"c":0.43,"u":0.03,"w":0.04},{"t":1869,"n":0.33,"c":0.43,"u":0.03,"w":0.04},{"t":1871,"n":0.35,"c":0.44,"u":0.03,"w":0.04},{"t":1873,"n":0.35,"c":0.45,"u":0.03,"w":0.04},{"t":1875,"n":0.36,"c":0.44,"u":0.03,"w":0.04},{"t":1877,"n":0.37,"c":0.43,"u":0.03,"w":0.04},
      {"t":1879,"n":0.38,"c":0.46,"u":0.03,"w":0.04},{"t":1881,"n":0.38,"c":0.49,"u":0.03,"w":0.04},{"t":1883,"n":0.39,"c":0.50,"u":0.03,"w":0.04},{"t":1885,"n":0.39,"c":0.50,"u":0.03,"w":0.04},{"t":1887,"n":0.37,"c":0.47,"u":0.03,"w":0.04},{"t":1889,"n":0.35,"c":0.45,"u":0.03,"w":0.04},{"t":1891,"n":0.33,"c":0.43,"u":0.03,"w":0.04},{"t":1893,"n":0.31,"c":0.41,"u":0.03,"w":0.04},{"t":1895,"n":0.29,"c":0.38,"u":0.03,"w":0.04},{"t":1897,"n":0.30,"c":0.39,"u":0.03,"w":0.04},
      {"t":1899,"n":0.33,"c":0.42,"u":0.03,"w":0.04},{"t":1901,"n":0.36,"c":0.46,"u":0.03,"w":0.04},{"t":1903,"n":0.39,"c":0.50,"u":0.03,"w":0.04},{"t":1905,"n":0.39,"c":0.50,"u":0.03,"w":0.04},{"t":1907,"n":0.37,"c":0.48,"u":0.03,"w":0.04},{"t":1909,"n":0.34,"c":0.44,"u":0.03,"w":0.04},{"t":1911,"n":0.31,"c":0.40,"u":0.03,"w":0.04},{"t":1913,"n":0.30,"c":0.37,"u":0.03,"w":0.04},{"t":1915,"n":0.30,"c":0.38,"u":0.03,"w":0.04},{"t":1917,"n":0.30,"c":0.39,"u":0.03,"w":0.04},
      {"t":1919,"n":0.30,"c":0.37,"u":0.03,"w":0.04},{"t":1921,"n":0.31,"c":0.39,"u":0.03,"w":0.04},{"t":1923,"n":0.33,"c":0.42,"u":0.03,"w":0.04},{"t":1925,"n":0.37,"c":0.45,"u":0.03,"w":0.04},{"t":1927,"n":0.40,"c":0.48,"u":0.03,"w":0.04},{"t":1929,"n":0.43,"c":0.52,"u":0.03,"w":0.04},{"t":1931,"n":0.46,"c":0.55,"u":0.03,"w":0.04},{"t":1933,"n":0.49,"c":0.59,"u":0.03,"w":0.04},{"t":1935,"n":0.51,"c":0.62,"u":0.03,"w":0.04},{"t":1937,"n":0.48,"c":0.60,"u":0.03,"w":0.04},
      {"t":1939,"n":0.46,"c":0.58,"u":0.03,"w":0.04},{"t":1941,"n":0.45,"c":0.56,"u":0.03,"w":0.04},{"t":1943,"n":0.44,"c":0.57,"u":0.03,"w":0.04},{"t":1945,"n":0.47,"c":0.60,"u":0.03,"w":0.04},{"t":1947,"n":0.51,"c":0.63,"u":0.03,"w":0.04},{"t":1949,"n":0.53,"c":0.64,"u":0.03,"w":0.04},{"t":1951,"n":0.54,"c":0.63,"u":0.03,"w":0.04},{"t":1953,"n":0.53,"c":0.62,"u":0.03,"w":0.04},{"t":1955,"n":0.51,"c":0.63,"u":0.03,"w":0.04},{"t":1957,"n":0.54,"c":0.65,"u":0.03,"w":0.04},
      {"t":1959,"n":0.55,"c":0.66,"u":0.035,"w":0.04},{"t":1961,"n":0.58,"c":0.68,"u":0.035,"w":0.04},{"t":1963,"n":0.60,"c":0.68,"u":0.035,"w":0.04},{"t":1965,"n":0.61,"c":0.69,"u":0.035,"w":0.045},{"t":1967,"n":0.61,"c":0.70,"u":0.035,"w":0.045},{"t":1969,"n":0.63,"c":0.71,"u":0.035,"w":0.045},{"t":1971,"n":0.64,"c":0.72,"u":0.035,"w":0.045},{"t":1973,"n":0.63,"c":0.74,"u":0.035,"w":0.045},{"t":1975,"n":0.62,"c":0.73,"u":0.035,"w":0.045},{"t":1977,"n":0.66,"c":0.74,"u":0.035,"w":0.045},
      {"t":1979,"n":0.67,"c":0.76,"u":0.035,"w":0.045},{"t":1981,"n":0.63,"c":0.72,"u":0.035,"w":0.045},{"t":1983,"n":0.61,"c":0.69,"u":0.035,"w":0.045},{"t":1985,"n":0.58,"c":0.67,"u":0.035,"w":0.045},{"t":1987,"n":0.57,"c":0.66,"u":0.035,"w":0.045},{"t":1989,"n":0.59,"c":0.67,"u":0.035,"w":0.045},{"t":1991,"n":0.60,"c":0.69,"u":0.035,"w":0.045},{"t":1993,"n":0.62,"c":0.71,"u":0.035,"w":0.045},{"t":1995,"n":0.67,"c":0.75,"u":0.035,"w":0.045},{"t":1997,"n":0.70,"c":0.78,"u":0.035,"w":0.045},
      {"t":1999,"n":0.66,"c":0.73,"u":0.035,"w":0.045},{"t":2001,"n":0.61,"c":0.68,"u":0.035,"w":0.045},{"t":2003,"n":0.56,"c":0.62,"u":0.03,"w":0.04},{"t":2005,"n":0.50,"c":0.55,"u":0.03,"w":0.04},{"t":2007,"n":0.49,"c":0.55,"u":0.03,"w":0.04},{"t":2009,"n":0.49,"c":0.53,"u":0.03,"w":0.04},{"t":2011,"n":0.44,"c":0.49,"u":0.03,"w":0.04}
    ],
    "tirm": [
      {"t":1785,"n":0.46,"c":0.65,"u":0.035,"w":0.045},{"t":1787,"n":0.43,"c":0.60,"u":0.035,"w":0.045},{"t":1789,"n":0.43,"c":0.59,"u":0.035,"w":0.045},{"t":1791,"n":0.42,"c":0.62,"u":0.035,"w":0.045},{"t":1793,"n":0.45,"c":0.63,"u":0.035,"w":0.045},{"t":1795,"n":0.47,"c":0.64,"u":0.035,"w":0.045},{"t":1797,"n":0.50,"c":0.71,"u":0.035,"w":0.045},{"t":1799,"n":0.51,"c":0.71,"u":0.035,"w":0.045},{"t":1801,"n":0.51,"c":0.70,"u":0.035,"w":0.045},{"t":1803,"n":0.50,"c":0.68,"u":0.035,"w":0.045},
      {"t":1805,"n":0.48,"c":0.66,"u":0.035,"w":0.045},{"t":1807,"n":0.47,"c":0.63,"u":0.035,"w":0.045},{"t":1809,"n":0.45,"c":0.61,"u":0.035,"w":0.045},{"t":1811,"n":0.43,"c":0.59,"u":0.035,"w":0.045},{"t":1813,"n":0.41,"c":0.56,"u":0.035,"w":0.045},{"t":1815,"n":0.39,"c":0.53,"u":0.035,"w":0.045},{"t":1817,"n":0.39,"c":0.51,"u":0.035,"w":0.045},{"t":1819,"n":0.43,"c":0.57,"u":0.035,"w":0.045},{"t":1821,"n":0.42,"c":0.58,"u":0.035,"w":0.045},{"t":1823,"n":0.41,"c":0.55,"u":0.035,"w":0.045},
      {"t":1825,"n":0.41,"c":0.55,"u":0.035,"w":0.045},{"t":1827,"n":0.43,"c":0.56,"u":0.035,"w":0.045},{"t":1829,"n":0.38,"c":0.51,"u":0.035,"w":0.045},{"t":1831,"n":0.39,"c":0.52,"u":0.035,"w":0.045},{"t":1833,"n":0.42,"c":0.54,"u":0.035,"w":0.045},{"t":1835,"n":0.43,"c":0.57,"u":0.035,"w":0.045},{"t":1837,"n":0.44,"c":0.58,"u":0.035,"w":0.045},{"t":1839,"n":0.44,"c":0.59,"u":0.035,"w":0.045},{"t":1841,"n":0.46,"c":0.61,"u":0.035,"w":0.045},{"t":1843,"n":0.48,"c":0.64,"u":0.035,"w":0.045},
      {"t":1845,"n":0.54,"c":0.70,"u":0.04,"w":0.05},{"t":1847,"n":0.62,"c":0.78,"u":0.04,"w":0.05},{"t":1849,"n":0.63,"c":0.84,"u":0.04,"w":0.05},{"t":1851,"n":0.62,"c":0.85,"u":0.04,"w":0.05},{"t":1853,"n":0.60,"c":0.83,"u":0.04,"w":0.05},{"t":1855,"n":0.55,"c":0.77,"u":0.04,"w":0.05},{"t":1857,"n":0.49,"c":0.68,"u":0.035,"w":0.045},{"t":1859,"n":0.45,"c":0.62,"u":0.035,"w":0.045},{"t":1861,"n":0.44,"c":0.60,"u":0.035,"w":0.045},{"t":1863,"n":0.43,"c":0.59,"u":0.035,"w":0.045},
      {"t":1865,"n":0.43,"c":0.57,"u":0.035,"w":0.045},{"t":1867,"n":0.44,"c":0.59,"u":0.035,"w":0.045},{"t":1869,"n":0.45,"c":0.60,"u":0.035,"w":0.045},{"t":1871,"n":0.47,"c":0.63,"u":0.035,"w":0.045},{"t":1873,"n":0.48,"c":0.65,"u":0.035,"w":0.045},{"t":1875,"n":0.50,"c":0.68,"u":0.035,"w":0.045},{"t":1877,"n":0.52,"c":0.70,"u":0.035,"w":0.045},{"t":1879,"n":0.49,"c":0.66,"u":0.035,"w":0.045},{"t":1881,"n":0.48,"c":0.65,"u":0.035,"w":0.045},{"t":1883,"n":0.47,"c":0.63,"u":0.035,"w":0.045},
      {"t":1885,"n":0.46,"c":0.59,"u":0.035,"w":0.045},{"t":1887,"n":0.43,"c":0.56,"u":0.035,"w":0.045},{"t":1889,"n":0.41,"c":0.53,"u":0.035,"w":0.045},{"t":1891,"n":0.40,"c":0.51,"u":0.035,"w":0.045},{"t":1893,"n":0.40,"c":0.52,"u":0.035,"w":0.045},{"t":1895,"n":0.42,"c":0.54,"u":0.035,"w":0.045},{"t":1897,"n":0.43,"c":0.54,"u":0.035,"w":0.045},{"t":1899,"n":0.44,"c":0.55,"u":0.035,"w":0.045},{"t":1901,"n":0.44,"c":0.57,"u":0.035,"w":0.045},{"t":1903,"n":0.44,"c":0.56,"u":0.035,"w":0.045},
      {"t":1905,"n":0.43,"c":0.54,"u":0.035,"w":0.045},{"t":1907,"n":0.41,"c":0.52,"u":0.035,"w":0.045},{"t":1909,"n":0.39,"c":0.49,"u":0.035,"w":0.045},{"t":1911,"n":0.40,"c":0.52,"u":0.035,"w":0.045},{"t":1913,"n":0.42,"c":0.54,"u":0.035,"w":0.045},{"t":1915,"n":0.43,"c":0.53,"u":0.035,"w":0.045},{"t":1917,"n":0.43,"c":0.53,"u":0.035,"w":0.045},{"t":1919,"n":0.44,"c":0.56,"u":0.035,"w":0.045},{"t":1921,"n":0.44,"c":0.58,"u":0.035,"w":0.045},{"t":1923,"n":0.46,"c":0.56,"u":0.035,"w":0.045},
      {"t":1925,"n":0.45,"c":0.55,"u":0.035,"w":0.045},{"t":1927,"n":0.45,"c":0.58,"u":0.035,"w":0.045},{"t":1929,"n":0.46,"c":0.56,"u":0.035,"w":0.045},{"t":1931,"n":0.46,"c":0.54,"u":0.035,"w":0.045},{"t":1933,"n":0.47,"c":0.56,"u":0.035,"w":0.045},{"t":1935,"n":0.47,"c":0.58,"u":0.035,"w":0.045},{"t":1937,"n":0.45,"c":0.55,"u":0.035,"w":0.045},{"t":1939,"n":0.44,"c":0.53,"u":0.035,"w":0.045},{"t":1941,"n":0.42,"c":0.52,"u":0.035,"w":0.045},{"t":1943,"n":0.40,"c":0.50,"u":0.035,"w":0.045},
      {"t":1945,"n":0.41,"c":0.46,"u":0.035,"w":0.045},{"t":1947,"n":0.45,"c":0.51,"u":0.035,"w":0.045},{"t":1949,"n":0.48,"c":0.56,"u":0.035,"w":0.045},{"t":1951,"n":0.50,"c":0.60,"u":0.035,"w":0.045},{"t":1953,"n":0.47,"c":0.57,"u":0.035,"w":0.045},{"t":1955,"n":0.44,"c":0.53,"u":0.035,"w":0.045},{"t":1957,"n":0.41,"c":0.50,"u":0.035,"w":0.045},{"t":1959,"n":0.40,"c":0.48,"u":0.035,"w":0.045},{"t":1961,"n":0.39,"c":0.46,"u":0.035,"w":0.045},{"t":1963,"n":0.40,"c":0.47,"u":0.035,"w":0.045},
      {"t":1965,"n":0.41,"c":0.48,"u":0.035,"w":0.045},{"t":1967,"n":0.42,"c":0.48,"u":0.035,"w":0.045},{"t":1969,"n":0.42,"c":0.48,"u":0.035,"w":0.045},{"t":1971,"n":0.42,"c":0.49,"u":0.035,"w":0.045},{"t":1973,"n":0.42,"c":0.49,"u":0.035,"w":0.045},{"t":1975,"n":0.43,"c":0.48,"u":0.035,"w":0.045},{"t":1977,"n":0.43,"c":0.49,"u":0.035,"w":0.045},{"t":1979,"n":0.44,"c":0.49,"u":0.035,"w":0.045},{"t":1981,"n":0.41,"c":0.45,"u":0.035,"w":0.045},{"t":1983,"n":0.38,"c":0.42,"u":0.035,"w":0.045},
      {"t":1985,"n":0.37,"c":0.41,"u":0.035,"w":0.045},{"t":1987,"n":0.39,"c":0.42,"u":0.035,"w":0.045},{"t":1989,"n":0.39,"c":0.42,"u":0.035,"w":0.045},{"t":1991,"n":0.38,"c":0.41,"u":0.035,"w":0.045},{"t":1993,"n":0.38,"c":0.41,"u":0.035,"w":0.045},{"t":1995,"n":0.39,"c":0.40,"u":0.035,"w":0.045},{"t":1997,"n":0.38,"c":0.39,"u":0.035,"w":0.045},{"t":1999,"n":0.36,"c":0.38,"u":0.035,"w":0.045},{"t":2001,"n":0.35,"c":0.37,"u":0.035,"w":0.045},{"t":2003,"n":0.34,"c":0.36,"u":0.035,"w":0.045},
      {"t":2005,"n":0.35,"c":0.37,"u":0.035,"w":0.045},{"t":2007,"n":0.37,"c":0.39,"u":0.035,"w":0.045},{"t":2009,"n":0.37,"c":0.39,"u":0.035,"w":0.045},{"t":2011,"n":0.39,"c":0.41,"u":0.035,"w":0.045},{"t":2012,"n":0.40,"c":0.42,"u":0.035,"w":0.045}
    ]
  },
  "config": {
    "font": "Liberation Sans",
    "view": {"stroke": null},
    "title": {"font": "Liberation Sans"},
    "text": {"font": "Liberation Sans"},
    "axis": {
      "labelFont": "Liberation Sans", "labelFontSize": 11, "labelFontWeight": "bold", "labelColor": "#262626",
      "titleFont": "Liberation Sans", "titleFontWeight": "bold", "titleColor": "#262626",
      "domainColor": "#8f8f8f", "tickColor": "#8f8f8f", "tickSize": -5, "grid": false,
      "labelFlush": false, "labelOverlap": false, "labelBound": false
    },
    "axisX": {"titleFontSize": 12, "labelPadding": 13, "titlePadding": 4},
    "axisY": {"titleFontSize": 13, "labelPadding": 11, "titlePadding": 3}
  }
}
